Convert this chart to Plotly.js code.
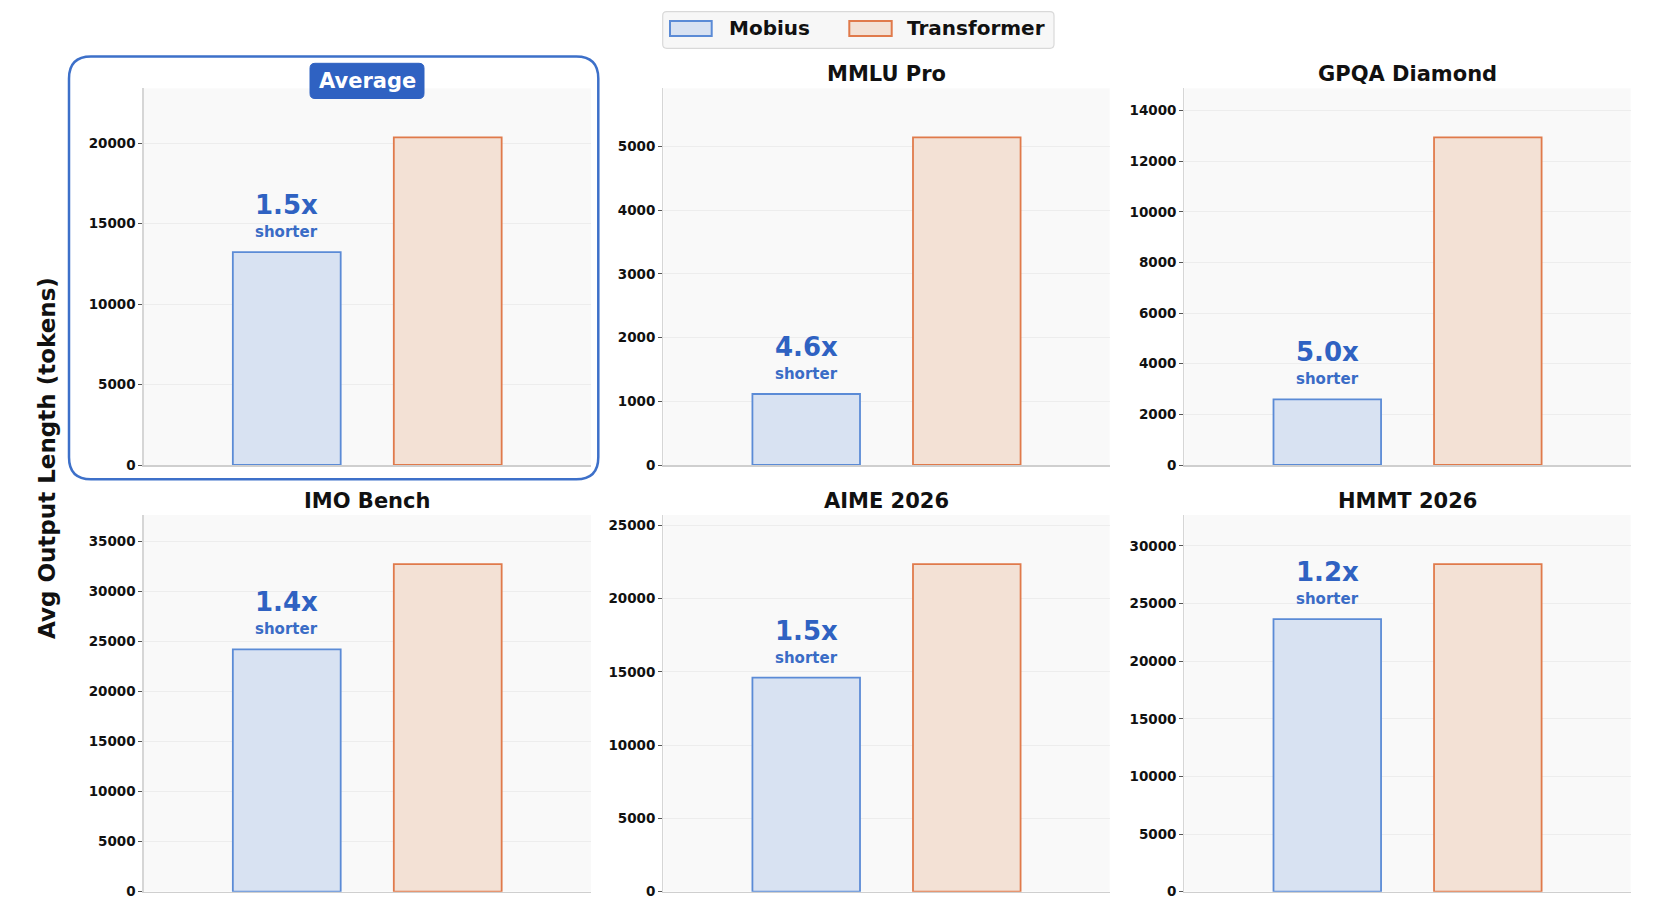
<!DOCTYPE html>
<html>
<head>
<meta charset="utf-8">
<script src="https://cdn.plot.ly/plotly-3.0.1.min.js"></script>
<style>
  body { margin: 0; background: #fff; }
  #chart { width: 1666px; height: 916px; }
</style>
</head>
<body>
<div id="chart"></div>
<script>
// data (avg output length in tokens)
var benchmarks = ["Average", "MMLU Pro", "GPQA Diamond", "IMO Bench", "AIME 2026", "HMMT 2026"];
var mobius = [13230, 1114, 2592, 24190, 14617, 23646];
var transformer = [20366, 5141, 12939, 32705, 22363, 28420];
var ratioLabels = ["1.5x", "4.6x", "5.0x", "1.4x", "1.5x", "1.2x"];
var seriesNames = ["Mobius", "Transformer"];
var tickSteps = [5000, 1000, 2000, 5000, 5000, 5000];

var W = 1666, H = 916;
var FONT = "DejaVu Sans, Verdana, sans-serif";

// pixel layout of the 2x3 grid
var colX = [[143.5, 591], [663.3, 1109.7], [1184.4, 1630.7]];
var rowY = [[88.3, 465], [515, 891.7]];

var blueEdge = "#5b8bd6", blueFill = "#d8e2f2";
var orangeEdge = "#e07a4b", orangeFill = "#f3e1d5";
var accent = "#2f62c2";

function px(x) { return x / W; }
function py(y) { return 1 - y / H; }

var data = [];
var layout = {
  width: W, height: H,
  margin: {l: 0, r: 0, t: 0, b: 0},
  paper_bgcolor: "#ffffff",
  plot_bgcolor: "#f9f9f9",
  showlegend: false,
  font: {family: FONT, color: "#111", weight: "bold"},
  annotations: [],
  shapes: []
};

benchmarks.forEach(function (name, i) {
  var n = i + 1;
  var r = Math.floor(i / 3), c = i % 3;
  var xa = "x" + (n === 1 ? "" : n), ya = "y" + (n === 1 ? "" : n);
  var xk = "xaxis" + (n === 1 ? "" : n), yk = "yaxis" + (n === 1 ? "" : n);

  data.push({
    type: "bar", name: seriesNames[0], x: [0], y: [mobius[i]], width: 0.67,
    xaxis: xa, yaxis: ya,
    marker: {color: blueFill, line: {color: blueEdge, width: 1.8}},
    hoverinfo: "name+y"
  });
  data.push({
    type: "bar", name: seriesNames[1], x: [1], y: [transformer[i]], width: 0.67,
    xaxis: xa, yaxis: ya,
    marker: {color: orangeFill, line: {color: orangeEdge, width: 1.8}},
    hoverinfo: "name+y"
  });

  var top = Math.max(mobius[i], transformer[i]) * 1.15;

  layout[xk] = {
    domain: [px(colX[c][0]), px(colX[c][1])],
    anchor: ya,
    range: [-0.89, 1.89],
    showticklabels: false, ticks: "",
    showgrid: false, zeroline: false,
    showline: true, linecolor: "#cfcfcf", linewidth: 1.5
  };
  layout[yk] = {
    domain: [py(rowY[r][1]), py(rowY[r][0])],
    anchor: xa,
    range: [0, top],
    dtick: tickSteps[i], tick0: 0, tickformat: "d",
    ticks: "outside", ticklen: 4, tickwidth: 1, tickcolor: "#555",
    tickfont: {family: FONT, size: 13.5, color: "#111", weight: "bold"},
    showgrid: true, gridcolor: "#ededed", gridwidth: 1,
    zeroline: false,
    showline: true, linecolor: "#d6d6d6", linewidth: 1.2
  };

  // ratio callout above the Mobius bar
  layout.annotations.push({
    xref: xa, yref: ya, x: 0, y: mobius[i], yshift: 47,
    text: ratioLabels[i], showarrow: false, xanchor: "center", yanchor: "middle",
    font: {family: FONT, size: 26, color: accent, weight: "bold"}
  });
  layout.annotations.push({
    xref: xa, yref: ya, x: 0, y: mobius[i], yshift: 20,
    text: "shorter", showarrow: false, xanchor: "center", yanchor: "middle",
    font: {family: FONT, size: 15, color: "#3a6cc6", weight: "bold"}
  });

  // panel title
  var cx = (colX[c][0] + colX[c][1]) / 2;
  layout.annotations.push({
    xref: "paper", yref: "paper", x: px(cx),
    y: i === 0 ? py(81) : py(rowY[r][0] - 14.5),
    xanchor: "center", yanchor: "middle",
    text: name, showarrow: false,
    font: {family: FONT, size: 21, color: i === 0 ? "#ffffff" : "#111", weight: "bold"}
  });
});

// rounded rectangle path in paper coords from pixel box
function roundRect(x0, y0, x1, y1, rad) {
  var rx = rad / W, ry = rad / H;
  var a = px(x0), b = px(x1), t = py(y0), u = py(y1);
  return "M" + (a + rx) + "," + t +
    " L" + (b - rx) + "," + t + " Q" + b + "," + t + " " + b + "," + (t - ry) +
    " L" + b + "," + (u + ry) + " Q" + b + "," + u + " " + (b - rx) + "," + u +
    " L" + (a + rx) + "," + u + " Q" + a + "," + u + " " + a + "," + (u + ry) +
    " L" + a + "," + (t - ry) + " Q" + a + "," + t + " " + (a + rx) + "," + t + " Z";
}

// highlight frame around the Average panel
layout.shapes.push({
  type: "path", xref: "paper", yref: "paper", layer: "above",
  path: roundRect(69, 56.5, 598.3, 479.3, 22),
  line: {color: "#3d70c9", width: 2.5}, fillcolor: "rgba(0,0,0,0)"
});
// badge behind "Average"
layout.shapes.push({
  type: "path", xref: "paper", yref: "paper", layer: "above",
  path: roundRect(310, 63.3, 424, 98.5, 5),
  line: {color: "#2f62c2", width: 1}, fillcolor: "#2f62c2"
});

// legend drawn by hand so the patches match the wide rectangles
layout.shapes.push({
  type: "path", xref: "paper", yref: "paper", layer: "above",
  path: roundRect(662.7, 11.7, 1054, 48.3, 4),
  line: {color: "#d9d9d9", width: 1.2}, fillcolor: "#f7f7f7"
});
layout.shapes.push({
  type: "rect", xref: "paper", yref: "paper", layer: "above",
  x0: px(670), x1: px(711.7), y0: py(36), y1: py(21),
  line: {color: blueEdge, width: 2}, fillcolor: blueFill
});
layout.shapes.push({
  type: "rect", xref: "paper", yref: "paper", layer: "above",
  x0: px(849.3), x1: px(891.7), y0: py(36), y1: py(21),
  line: {color: orangeEdge, width: 2}, fillcolor: orangeFill
});
layout.annotations.push({
  xref: "paper", yref: "paper", x: px(727), y: py(28.5), xanchor: "left", yanchor: "middle",
  text: seriesNames[0], showarrow: false,
  font: {family: FONT, size: 20, color: "#111", weight: "bold"}
});
layout.annotations.push({
  xref: "paper", yref: "paper", x: px(905), y: py(28.5), xanchor: "left", yanchor: "middle",
  text: seriesNames[1], showarrow: false,
  font: {family: FONT, size: 20, color: "#111", weight: "bold"}
});

// shared y title
layout.annotations.push({
  xref: "paper", yref: "paper", x: px(47), y: py(458), xanchor: "center", yanchor: "middle",
  text: "Avg Output Length (tokens)", textangle: -90, showarrow: false,
  font: {family: FONT, size: 23, color: "#111", weight: "bold"}
});

Plotly.newPlot("chart", data, layout, {displayModeBar: false, staticPlot: true});
</script>
</body>
</html>
